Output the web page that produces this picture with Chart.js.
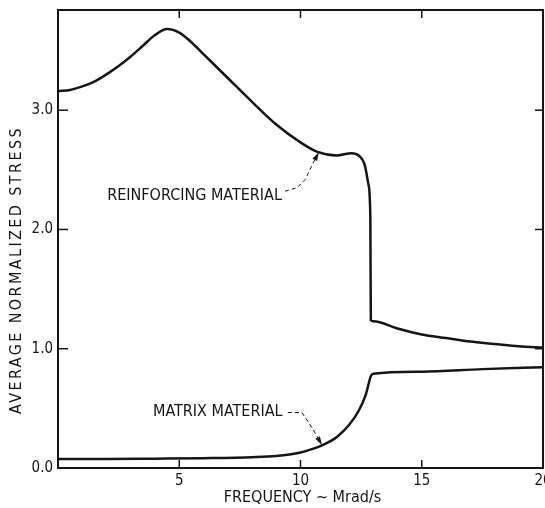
<!DOCTYPE html>
<html>
<head>
<meta charset="utf-8">
<script src="https://cdn.jsdelivr.net/npm/chart.js@4/dist/chart.umd.min.js"></script>
<style>
  html, body { margin: 0; padding: 0; background: #fff; }
</style>
</head>
<body>
<canvas id="stressChart" width="545" height="508"></canvas>
<script>
// Reinforcing material (fibre) stress vs frequency
const reinforcingFreq   = [0, 0.5, 1.0, 1.5, 2.0, 2.5, 3.0, 3.5, 4.0, 4.5, 5.0, 5.5, 6.0, 7.0, 8.0, 9.0, 10.0, 10.7, 11.5, 12.1, 12.4, 12.65, 12.8, 12.88, 12.9, 13.0, 14, 15, 16, 17, 18, 19, 20];
const reinforcingStress = [3.16, 3.17, 3.20, 3.24, 3.30, 3.37, 3.45, 3.54, 3.63, 3.68, 3.65, 3.57, 3.47, 3.27, 3.07, 2.88, 2.73, 2.65, 2.62, 2.64, 2.62, 2.54, 2.38, 2.10, 1.24, 1.23, 1.17, 1.12, 1.09, 1.06, 1.04, 1.02, 1.01];

// Matrix material stress vs frequency
const matrixFreq   = [0, 2, 4, 6, 8, 9, 10, 10.5, 11, 11.5, 12, 12.4, 12.7, 12.9, 13.0, 15, 17.5, 20];
const matrixStress = [0.075, 0.075, 0.078, 0.082, 0.09, 0.10, 0.13, 0.16, 0.20, 0.26, 0.36, 0.48, 0.62, 0.77, 0.79, 0.807, 0.829, 0.845];

const freqTicks = [5, 10, 15];
const stressTicks = [1, 2, 3];

const FONT = "'DejaVu Sans Condensed', 'Liberation Sans Narrow', sans-serif";
const INK = '#151515';

const toPoints = (xs, ys) => xs.map((x, i) => ({ x, y: ys[i] }));

// callout labels with dashed leaders (data units)
const notes = [
  { text: 'REINFORCING MATERIAL', at: [2.03, 2.28], path: [[9.36, 2.32], [9.86, 2.35], [10.2, 2.42], [10.5, 2.55], [10.76, 2.65]] },
  { text: 'MATRIX MATERIAL',      at: [3.92, 0.47], path: [[9.48, 0.465], [10.06, 0.465], [10.5, 0.33], [10.89, 0.19]] }
];

const frameAndNotes = {
  id: 'frameAndNotes',
  afterDatasetsDraw(chart) {
    const { ctx, chartArea: a, scales: { x, y } } = chart;
    const seg = (x1, y1, x2, y2) => { ctx.beginPath(); ctx.moveTo(x1, y1); ctx.lineTo(x2, y2); ctx.stroke(); };
    ctx.save();
    ctx.strokeStyle = INK;
    ctx.fillStyle = INK;

    // plot frame
    ctx.lineWidth = 2;
    ctx.strokeRect(a.left, a.top, a.right - a.left, a.bottom - a.top);

    // inward tick marks on all four sides
    ctx.lineWidth = 1.5;
    freqTicks.forEach(v => {
      const px = x.getPixelForValue(v);
      seg(px, a.bottom, px, a.bottom - 8);
      seg(px, a.top, px, a.top + 8);
    });
    stressTicks.forEach(v => {
      const py = y.getPixelForValue(v);
      seg(a.left, py, a.left + 10, py);
      seg(a.right, py, a.right - 8, py);
    });

    // callouts
    ctx.font = '16px ' + FONT;
    ctx.textBaseline = 'middle';
    ctx.textAlign = 'left';
    notes.forEach(n => {
      ctx.fillText(n.text, x.getPixelForValue(n.at[0]), y.getPixelForValue(n.at[1]));
      const pts = n.path.map(p => [x.getPixelForValue(p[0]), y.getPixelForValue(p[1])]);
      ctx.lineWidth = 1;
      ctx.setLineDash([4, 3]);
      ctx.beginPath();
      ctx.moveTo(pts[0][0], pts[0][1]);
      for (let i = 1; i < pts.length - 1; i++) ctx.lineTo(pts[i][0], pts[i][1]);
      const tip = pts[pts.length - 1], prev = pts[pts.length - 2];
      const ang = Math.atan2(tip[1] - prev[1], tip[0] - prev[0]);
      const bx = tip[0] - 9 * Math.cos(ang), by = tip[1] - 9 * Math.sin(ang);
      ctx.lineTo(bx, by);
      ctx.stroke();
      ctx.setLineDash([]);
      // arrow head
      const w = 2.6;
      ctx.beginPath();
      ctx.moveTo(tip[0], tip[1]);
      ctx.lineTo(bx + w * Math.sin(ang), by - w * Math.cos(ang));
      ctx.lineTo(bx - w * Math.sin(ang), by + w * Math.cos(ang));
      ctx.closePath();
      ctx.fill();
    });

    // axis titles
    ctx.font = '16px ' + FONT;
    ctx.textAlign = 'center';
    ctx.fillText('FREQUENCY ~ Mrad/s', (a.left + a.right) / 2 + 2, 498);
    ctx.translate(17, 270);
    ctx.rotate(-Math.PI / 2);
    ctx.letterSpacing = '2.4px';
    ctx.fillText('AVERAGE NORMALIZED STRESS', 0, 0);
    ctx.restore();
  }
};

const tickFont = { family: FONT, size: 15 };

new Chart(document.getElementById('stressChart'), {
  type: 'scatter',
  data: {
    datasets: [
      {
        label: 'Reinforcing material',
        data: toPoints(reinforcingFreq, reinforcingStress),
        showLine: true,
        borderColor: INK,
        borderWidth: 2.5,
        pointRadius: 0,
        cubicInterpolationMode: 'monotone'
      },
      {
        label: 'Matrix material',
        data: toPoints(matrixFreq, matrixStress),
        showLine: true,
        borderColor: INK,
        borderWidth: 2.5,
        pointRadius: 0,
        cubicInterpolationMode: 'monotone'
      }
    ]
  },
  options: {
    responsive: false,
    animation: false,
    layout: { padding: { top: 10, right: 2, left: 0, bottom: 0 }, autoPadding: false },
    plugins: { legend: { display: false }, tooltip: { enabled: false } },
    scales: {
      x: {
        type: 'linear',
        min: 0,
        max: 20,
        afterFit(scale) {
          // let the "20" label run off the edge instead of shrinking the plot
          scale.height = 40;
          scale.paddingLeft = 0;
          scale.paddingRight = 0;
        },
        grid: { display: false, drawTicks: false },
        border: { display: false },
        ticks: {
          stepSize: 5,
          includeBounds: false,
          maxRotation: 0,
          autoSkip: false,
          padding: 4,
          color: INK,
          font: tickFont,
          callback: v => (v === 0 ? '' : String(v))
        }
      },
      y: {
        type: 'linear',
        min: 0,
        max: 3.84,
        afterFit(scale) {
          scale.width = 58;
          scale.paddingTop = 0;
          scale.paddingBottom = 0;
        },
        grid: { display: false, drawTicks: false },
        border: { display: false },
        ticks: {
          stepSize: 1,
          includeBounds: false,
          padding: 5,
          color: INK,
          font: tickFont,
          callback: v => v.toFixed(1)
        }
      }
    }
  },
  plugins: [frameAndNotes]
});
</script>
</body>
</html>
